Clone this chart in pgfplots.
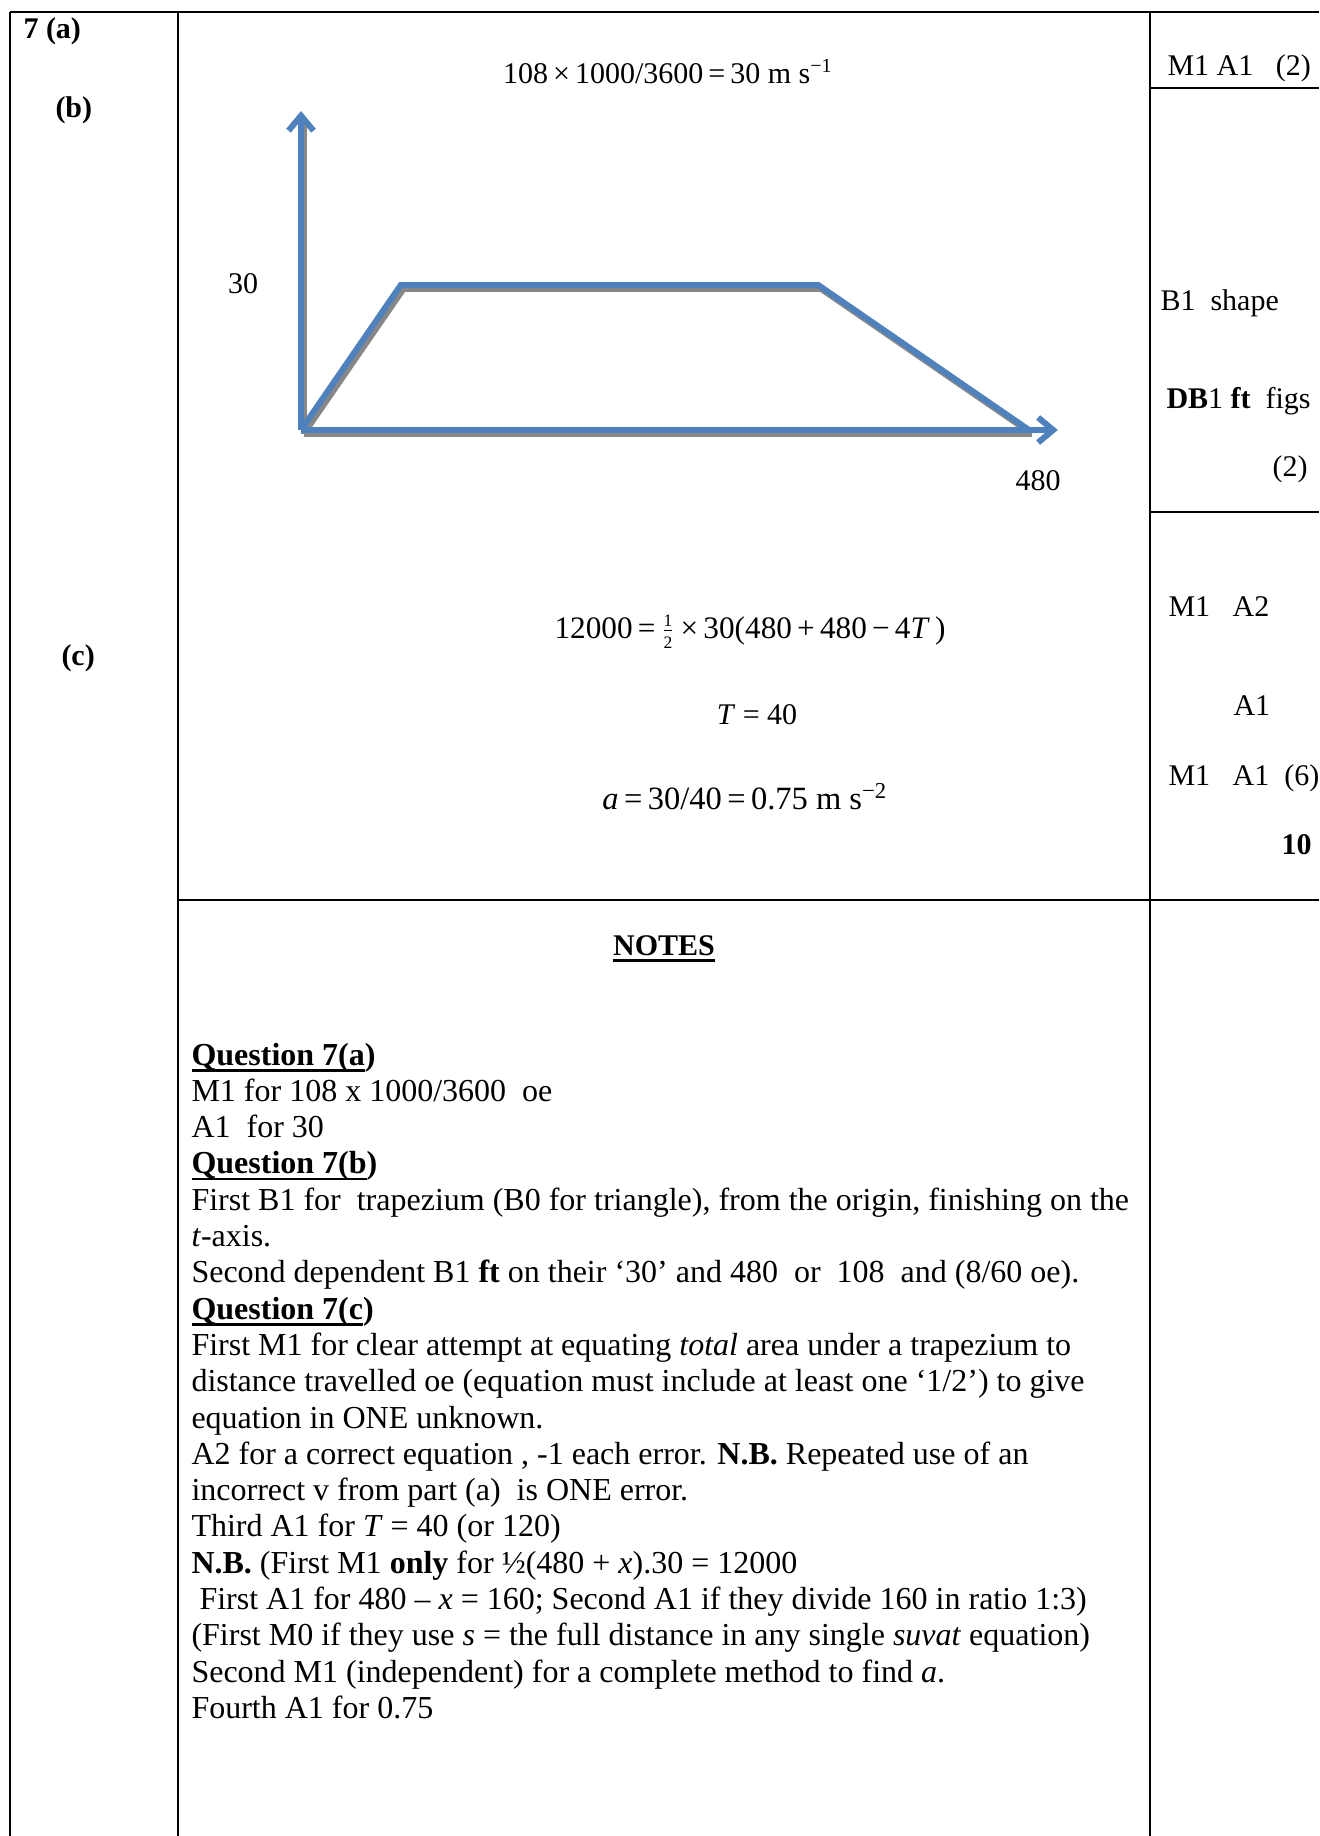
\documentclass[border=0pt]{standalone}
\usepackage{pgfplots}
\pgfplotsset{compat=1.18}
\usetikzlibrary{arrows.meta}
\usepackage{fontspec}
\setmainfont{Liberation Serif}
\definecolor{vtblue}{RGB}{79,129,189}
\definecolor{vtshadow}{RGB}{135,135,135}
% word-style underline at a fixed depth
\newcommand\undl[1]{\setbox0\hbox{#1}\rlap{\rule[-2.6pt]{\wd0}{1pt}}\box0}
\newcommand\hf{$\frac{\mbox{\scriptsize 1}}{\mbox{\scriptsize 2}}$}
\begin{document}
\begin{tikzpicture}[every node/.style={inner sep=0pt, font=\fontsize{12}{14}\selectfont}]
\begin{scope}[x=0.4pt,y=-0.4pt]
\fill[white] (0,0) rectangle (1319,1836);
\path[use as bounding box] (0,0) rectangle (1319,1836);
% table rules
\draw[line width=0.8pt] (10,12) -- (1319,12);
\draw[line width=0.8pt] (10,12) -- (10,1836);
\draw[line width=0.8pt] (178,12) -- (178,1836);
\draw[line width=0.8pt] (1150,12) -- (1150,1836);
\draw[line width=0.6pt] (1150,88) -- (1319,88);
\draw[line width=0.6pt] (1150,512) -- (1319,512);
\draw[line width=0.9pt] (178,900) -- (1319,900);
\end{scope}

% v-t sketch
\begin{axis}[
  at={(120.4pt,-172pt)}, anchor=origin,
  scale only axis, width=291.2pt, height=58pt,
  xmin=0, xmax=480, ymin=0, ymax=30,
  hide axis, clip=false,
]
\addplot[vtshadow, line width=2.4pt, xshift=1.1pt, yshift=-1.5pt] coordinates {(0,0) (65.8,30) (341,30) (480,0)};
\addplot[vtshadow, line width=2.4pt, xshift=1.1pt, yshift=-1.5pt] coordinates {(0,0) (480,0)};
\addplot[vtshadow, line width=2.4pt, xshift=1.1pt, yshift=-1.5pt] coordinates {(0,0) (0,64)};
\addplot[vtblue, line width=2.4pt, -{Straight Barb[length=6pt,width=10pt]}] coordinates {(0,0) (499,0)};
\addplot[vtblue, line width=2.4pt, -{Straight Barb[length=6pt,width=10pt]}] coordinates {(0,0) (0,66)};
\addplot[vtblue, line width=2.4pt] coordinates {(0,0) (65.8,30) (341,30) (480,0)};
\end{axis}

\begin{scope}[x=0.4pt,y=-0.4pt]
% question column
\node[anchor=base west] at (23,38) {\textbf{7 (a)}};
\node[anchor=base west] at (55,117) {\textbf{(b)}};
\node[anchor=base west] at (61,665) {\textbf{(c)}};
% working
\node[anchor=base] at (668,83) {108\,×\,1000/3600\,=\,30 m s\textsuperscript{−1}};
\node[anchor=base] at (243,293) {30};
\node[anchor=base] at (1038,490) {480};
\node[anchor=base] at (750,638) {\fontsize{12.5}{14}\selectfont 12000\,=\,\hf\,×\,30(480\,+\,480\,−\,4\textit{T}\,)};
\node[anchor=base] at (757,724) {\textit{T} = 40};
\node[anchor=base] at (745,809) {\fontsize{13}{15}\selectfont\textit{a}\,=\,30/40\,=\,0.75 m s\textsuperscript{−2}};
% marks column
\node[anchor=base west] at (1167,75) {M1 A1\ \ \ (2)};
\node[anchor=base west] at (1160,310) {B1\ \ shape};
\node[anchor=base west] at (1166,408) {\textbf{DB}1 \textbf{ft}\ \ figs};
\node[anchor=base east] at (1308,476) {(2)};
\node[anchor=base west] at (1168,616) {M1\ \ \ A2};
\node[anchor=base west] at (1233,715) {A1};
\node[anchor=base west] at (1168,785) {M1\ \ \ A1\ \ (6)};
\node[anchor=base east] at (1312,854) {\textbf{10}};
% notes
\node[anchor=base] at (664,955) {\undl{\textbf{NOTES}}};
\foreach \txt [count=\i from 0] in {
  {\undl{\textbf{Question 7(a}}\textbf{)}},
  {M1 for 108 x 1000/3600\ \ oe},
  {A1\ \ for 30},
  {\undl{\textbf{Question 7(b}}\textbf{)}},
  {First B1 for\ \ trapezium (B0 for triangle), from the origin, finishing on the},
  {\textit{t}-axis.},
  {Second dependent B1 \textbf{ft} on their ‘30’ and 480\ \ or\ \ 108\ \ and (8/60 oe).},
  {\undl{\textbf{Question 7(c}}\textbf{)}},
  {First M1 for clear attempt at equating \textit{total} area under a trapezium to},
  {distance travelled oe (equation must include at least one ‘1/2’) to give},
  {equation in ONE unknown.},
  {A2 for a correct equation , -1 each error. \textbf{N.B.} Repeated use of an},
  {incorrect v from part (a)\ \ is ONE error.},
  {Third A1 for \textit{T} = 40 (or 120)},
  {\textbf{N.B.} (First M1 \textbf{only} for ½(480 + \textit{x}).30 = 12000},
  {\ First A1 for 480 – \textit{x} = 160; Second A1 if they divide 160 in ratio 1:3)},
  {(First M0 if they use \textit{s} = the full distance in any single \textit{suvat} equation)},
  {Second M1 (independent) for a complete method to find \textit{a}.},
  {Fourth A1 for 0.75}}
  \node[anchor=base west, font=\fontsize{12.8}{15}\selectfont] at (191,1065+36.3*\i) {\txt};
\end{scope}
\end{tikzpicture}
\end{document}
